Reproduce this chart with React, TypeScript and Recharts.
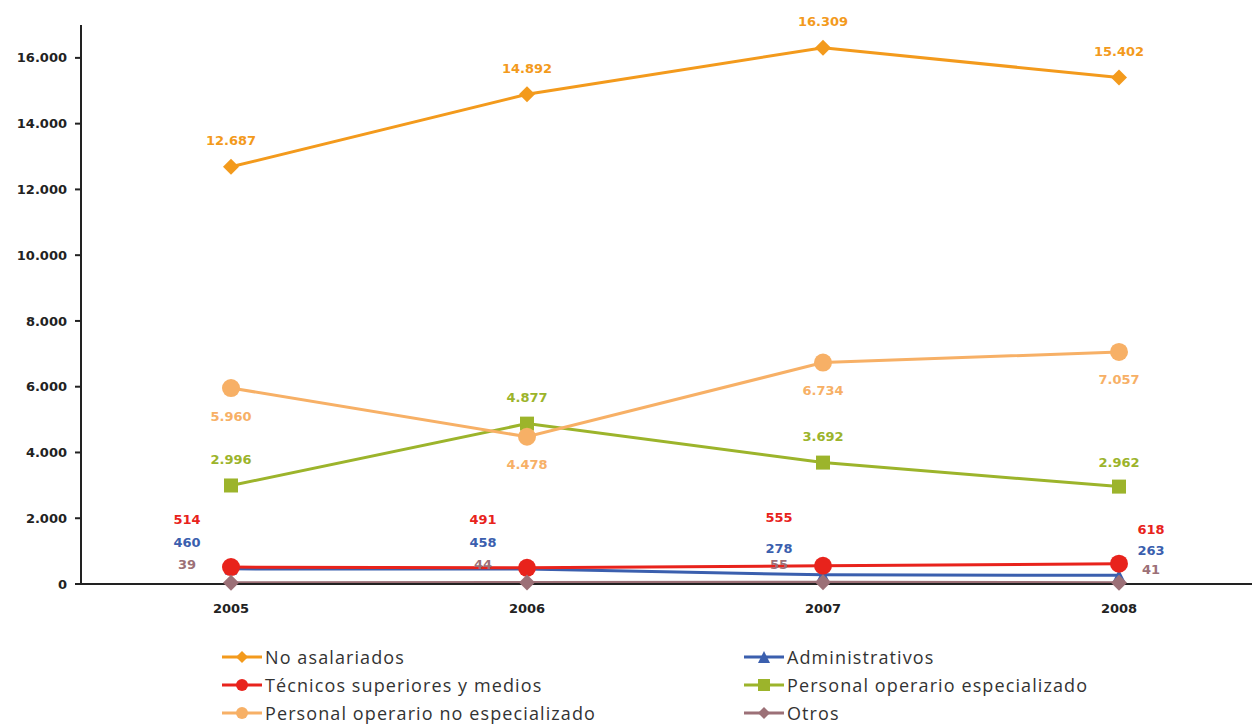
import * as React from "react";
import { CartesianGrid, Line, LineChart, XAxis, YAxis } from "recharts";

const years = ["2005", "2006", "2007", "2008"];
const noAsalariados = [12687, 14892, 16309, 15402];
const administrativos = [460, 458, 278, 263];
const tecnicos = [514, 491, 555, 618];
const operarioEspecializado = [2996, 4877, 3692, 2962];
const operarioNoEspecializado = [5960, 4478, 6734, 7057];
const otros = [39, 44, 55, 41];
const yTicks = [0, 2000, 4000, 6000, 8000, 10000, 12000, 14000, 16000];

const data = years.map((year, i) => ({
  year,
  noAsal: noAsalariados[i],
  admin: administrativos[i],
  tec: tecnicos[i],
  esp: operarioEspecializado[i],
  noEsp: operarioNoEspecializado[i],
  otros: otros[i],
}));

type Shape = "diamond" | "circle" | "square" | "triangle";

const series: Array<{
  key: string;
  name: string;
  color: string;
  shape: Shape;
  size: number;
  dx: number;
  dy: number;
  lastDx: number;
  lastDy: number;
}> = [
  { key: "noAsal", name: "No asalariados", color: "#F39A1C", shape: "diamond", size: 8, dx: 0, dy: -26, lastDx: 0, lastDy: -26 },
  { key: "admin", name: "Administrativos", color: "#3B5FAE", shape: "triangle", size: 6, dx: -44, dy: -26, lastDx: 32, lastDy: -25 },
  { key: "tec", name: "Técnicos superiores y medios", color: "#E8231C", shape: "circle", size: 9, dx: -44, dy: -48, lastDx: 32, lastDy: -34 },
  { key: "esp", name: "Personal operario especializado", color: "#9CB42B", shape: "square", size: 7, dx: 0, dy: -26, lastDx: 0, lastDy: -24 },
  { key: "noEsp", name: "Personal operario no especializado", color: "#F7B066", shape: "circle", size: 9, dx: 0, dy: 28, lastDx: 0, lastDy: 28 },
  { key: "otros", name: "Otros", color: "#9C7077", shape: "diamond", size: 8, dx: -44, dy: -18, lastDx: 32, lastDy: -13 },
];

const fmt = (v: number) => String(v).replace(/\B(?=(\d{3})+(?!\d))/g, ".");

function Marker({ cx, cy, shape, size, color }: { cx: number; cy: number; shape: Shape; size: number; color: string }) {
  if (shape === "circle") return <circle cx={cx} cy={cy} r={size} fill={color} />;
  if (shape === "square") return <rect x={cx - size} y={cy - size} width={size * 2} height={size * 2} fill={color} />;
  if (shape === "triangle")
    return <polygon points={`${cx},${cy - size} ${cx + size},${cy + size} ${cx - size},${cy + size}`} fill={color} />;
  return <polygon points={`${cx},${cy - size} ${cx + size},${cy} ${cx},${cy + size} ${cx - size},${cy}`} fill={color} />;
}

const makeDot = (s: (typeof series)[number]) => (props: any) => (
  <Marker key={`${s.key}-${props.index}`} cx={props.cx} cy={props.cy} shape={s.shape} size={s.size} color={s.color} />
);

const makeLabel = (s: (typeof series)[number]) => (props: any) => {
  const last = props.index === years.length - 1;
  return (
    <text
      key={`${s.key}-l-${props.index}`}
      x={props.x + (last ? s.lastDx : s.dx)}
      y={props.y + (last ? s.lastDy : s.dy)}
      textAnchor="middle"
      dominantBaseline="central"
      fill={s.color}
      fontSize={13}
      fontWeight="bold"
      fontFamily="DejaVu Sans"
    >
      {fmt(props.value)}
    </text>
  );
};

function LegendItem({ s }: { s: (typeof series)[number] }) {
  return (
    <div style={{ display: "flex", alignItems: "center", height: 28 }}>
      <svg width={42} height={20}>
        <line x1={0} y1={10} x2={40} y2={10} stroke={s.color} strokeWidth={3} />
        <Marker cx={20} cy={10} shape={s.shape} size={6} color={s.color} />
      </svg>
      <span style={{ marginLeft: 1 }}>{s.name}</span>
    </div>
  );
}

export default function App() {
  const order = [0, 1, 2, 3, 4, 5];
  return (
    <div style={{ position: "absolute", left: 0, top: 0, width: 1252, height: 724, overflow: "hidden", background: "#fff" }}>
      <LineChart width={1270} height={622} data={data} margin={{ top: 25, right: 3, left: 0, bottom: 0 }}>
        <CartesianGrid stroke="none" />
        <XAxis
          dataKey="year"
          padding={{ left: 150, right: 148 }}
          axisLine={{ stroke: "#222", strokeWidth: 2 }}
          tickLine={false}
          height={38}
          tickMargin={14}
          tick={{ fill: "#222", fontSize: 13, fontWeight: "bold", fontFamily: "DejaVu Sans" }}
        />
        <YAxis
          domain={[0, 17000]}
          ticks={yTicks}
          width={81}
          axisLine={{ stroke: "#222", strokeWidth: 2 }}
          tickLine={{ stroke: "#222", strokeWidth: 2 }}
          tickSize={6}
          tickMargin={8}
          tickFormatter={(v: number) => fmt(v)}
          tick={{ fill: "#222", fontSize: 13, fontWeight: "bold", fontFamily: "DejaVu Sans" }}
        />
        {series.map((s) => (
          <Line
            key={s.key}
            dataKey={s.key}
            name={s.name}
            stroke={s.color}
            strokeWidth={3}
            dot={makeDot(s)}
            activeDot={false}
            label={makeLabel(s)}
            isAnimationActive={false}
          />
        ))}
      </LineChart>
      <div
        style={{
          position: "absolute",
          top: 643,
          left: 222,
          width: 900,
          display: "grid",
          gridTemplateColumns: "522px 380px",
          fontFamily: "'Open Sans', sans-serif",
          fontSize: 18,
          letterSpacing: 1.1,
          color: "#333",
        }}
      >
        {order.map((i) => (
          <LegendItem key={series[i].key} s={series[i]} />
        ))}
      </div>
    </div>
  );
}
